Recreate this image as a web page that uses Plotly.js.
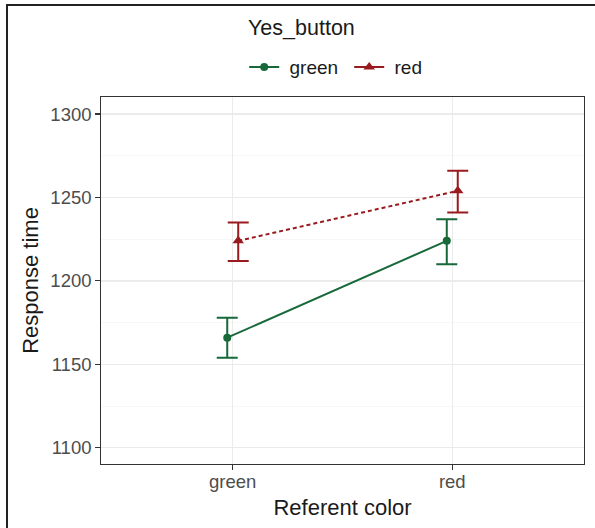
<!DOCTYPE html>
<html>
<head>
<meta charset="utf-8">
<script src="https://cdn.plot.ly/plotly-3.0.1.min.js"></script>
<style>
  html, body { margin: 0; padding: 0; background: #ffffff; }
  #wrap { position: relative; width: 595px; height: 528px; }
  #chart { width: 595px; height: 528px; }
  #frame { position: absolute; left: 6px; top: 4px; width: 600px; height: 522px;
           border-left: 2px solid #222; border-top: 2px solid #222; border-bottom: 2px solid #222;
           pointer-events: none; }
</style>
</head>
<body>
<div id="wrap">
  <div id="chart"></div>
  <div id="frame"></div>
</div>
<script>
// Data
const categories = ["green", "red"];          // Referent color
const seriesNames = ["green", "red"];         // Yes_button
const legendTitle = "Yes_button";
const meanGreen = [1166, 1224];
const lowGreen  = [1154, 1210];
const highGreen = [1178, 1237];
const meanRed   = [1224, 1254];
const lowRed    = [1212, 1241];
const highRed   = [1235, 1266];

const colGreen = "#17693a";
const colRed = "#991b1f";
const dodge = 0.025;

const xpos = (off) => categories.map((c, i) => i + 1 + off);
const FONT = "Liberation Sans, Arial, sans-serif";

const traces = [
  {
    x: xpos(-dodge), y: meanGreen, name: seriesNames[0], type: "scatter", mode: "lines+markers",
    showlegend: false, legendgroup: "g",
    line: { color: colGreen, width: 2 },
    marker: { color: colGreen, size: 8, symbol: "circle" },
    error_y: { type: "data", symmetric: false,
      array: highGreen.map((h, i) => h - meanGreen[i]),
      arrayminus: meanGreen.map((m, i) => m - lowGreen[i]),
      color: colGreen, thickness: 2, width: 10.5 }
  },
  {
    x: xpos(dodge), y: meanRed, name: seriesNames[1], type: "scatter", mode: "lines+markers",
    showlegend: false, legendgroup: "r",
    line: { color: colRed, width: 2, dash: "4px,3px" },
    marker: { color: colRed, size: 10, symbol: "triangle-up" },
    error_y: { type: "data", symmetric: false,
      array: highRed.map((h, i) => h - meanRed[i]),
      arrayminus: meanRed.map((m, i) => m - lowRed[i]),
      color: colRed, thickness: 2, width: 10.5 }
  },
  // legend keys (solid lines, as in the reference legend)
  {
    x: [null], y: [null], name: "\u00a0" + seriesNames[0], type: "scatter", mode: "lines+markers",
    legendgroup: "g", line: { color: colGreen, width: 2 },
    marker: { color: colGreen, size: 8, symbol: "circle" }
  },
  {
    x: [null], y: [null], name: "\u00a0" + seriesNames[1], type: "scatter", mode: "lines+markers",
    legendgroup: "r", line: { color: colRed, width: 2 },
    marker: { color: colRed, size: 10, symbol: "triangle-up" }
  }
];

const layout = {
  width: 595, height: 528,
  margin: { l: 100.5, r: 10.5, t: 97, b: 63.5 },
  paper_bgcolor: "#ffffff", plot_bgcolor: "#ffffff",
  font: { family: FONT, color: "#4d4d4d" },
  showlegend: true,
  legend: {
    orientation: "h", x: 0.2965, xanchor: "left", y: 1.0816, yanchor: "middle",
    font: { size: 19, color: "#1a1a1a", family: FONT },
    bgcolor: "rgba(0,0,0,0)", itemwidth: 30, entrywidth: 60, entrywidthmode: "pixels",
    traceorder: "normal"
  },
  annotations: [{
    text: legendTitle, xref: "paper", yref: "paper", x: 0.3006, y: 1.1878,
    xanchor: "left", yanchor: "middle", showarrow: false,
    font: { size: 21.5, color: "#1a1a1a", family: FONT }
  }],
  xaxis: {
    range: [0.4, 2.6], tickmode: "array", tickvals: categories.map((c, i) => i + 1), ticktext: categories,
    showgrid: true, gridcolor: "#ebebeb", gridwidth: 1.2, zeroline: false,
    showline: true, linecolor: "#333333", linewidth: 1.3, mirror: true,
    ticks: "outside", ticklen: 4.5, tickwidth: 1.1, tickcolor: "#333333",
    ticklabelstandoff: -4,
    tickfont: { size: 18.5, color: "#4d4d4d", family: FONT },
    title: { text: "Referent color", font: { size: 22, color: "#1a1a1a", family: FONT }, standoff: 8 },
    automargin: false
  },
  yaxis: {
    range: [1090.3, 1310.2], tickmode: "linear", tick0: 1100, dtick: 50,
    showgrid: true, gridcolor: "#ebebeb", gridwidth: 1.2, zeroline: false,
    minor: { tick0: 1125, dtick: 50, showgrid: true, gridcolor: "#f2f2f2", gridwidth: 0.6 },
    showline: true, linecolor: "#333333", linewidth: 1.3, mirror: true,
    ticks: "outside", ticklen: 4.5, tickwidth: 1.1, tickcolor: "#333333",
    tickfont: { size: 18.5, color: "#4d4d4d", family: FONT },
    title: { text: "Response time", font: { size: 22, color: "#1a1a1a", family: FONT }, standoff: 5 },
    automargin: false
  }
};

Plotly.newPlot("chart", traces, layout, { displayModeBar: false, staticPlot: true });
</script>
</body>
</html>
